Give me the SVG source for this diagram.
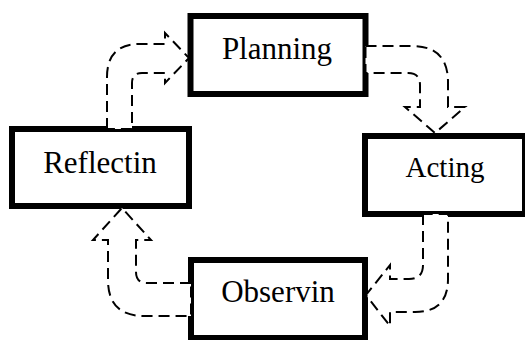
<svg xmlns="http://www.w3.org/2000/svg" width="525" height="340" viewBox="0 0 525 340">
<style>
.box{fill:#fff;stroke:#000;stroke-width:6}
.lbl{font-family:"Liberation Serif","Times New Roman",serif;font-size:31px;fill:#000;text-anchor:middle}
.arr{fill:#fff;stroke:#000;stroke-width:2;stroke-dasharray:11 6}
</style>
<rect width="525" height="340" fill="#fff"/>
<g id="planning">
<rect class="box" x="190.5" y="16" width="175" height="78"/>
<text class="lbl" x="277" y="59">Planning</text>
</g>
<g id="acting">
<rect class="box" x="365" y="136" width="160" height="78"/>
<text class="lbl" x="445" y="177" style="font-size:29px">Acting</text>
</g>
<g id="observing">
<rect class="box" x="191" y="260" width="174" height="78"/>
<text class="lbl" x="278" y="302">Observin</text>
</g>
<g id="reflecting">
<rect class="box" x="12" y="129" width="177" height="77"/>
<text class="lbl" x="100" y="173">Reflectin</text>
</g>
<g id="connectors">
<path class="arr" d="M107,129 V77 Q107,44 140,44 H165 V33 L189,58 L165,83 V73 H142 Q132,73 132,83 V129 Z"/>
<path class="arr" d="M365.5,46 H412 Q448,46 448,82 V107 H465 L435,133 L405,107 H420 V85 Q420,73 408,73 H365.5 Z"/>
<path class="arr" d="M423,214 V265 Q423,279 409,279 H390 V265 L366,295 L390,326 V312 H415 Q448,312 448,279 V214 Z"/>
<path class="arr" d="M191,283 H147 Q136,283 136,272 V240 H151 L122,208 L93,240 H108 V280 Q108,316 144,316 H191 Z"/>
</g>
</svg>
